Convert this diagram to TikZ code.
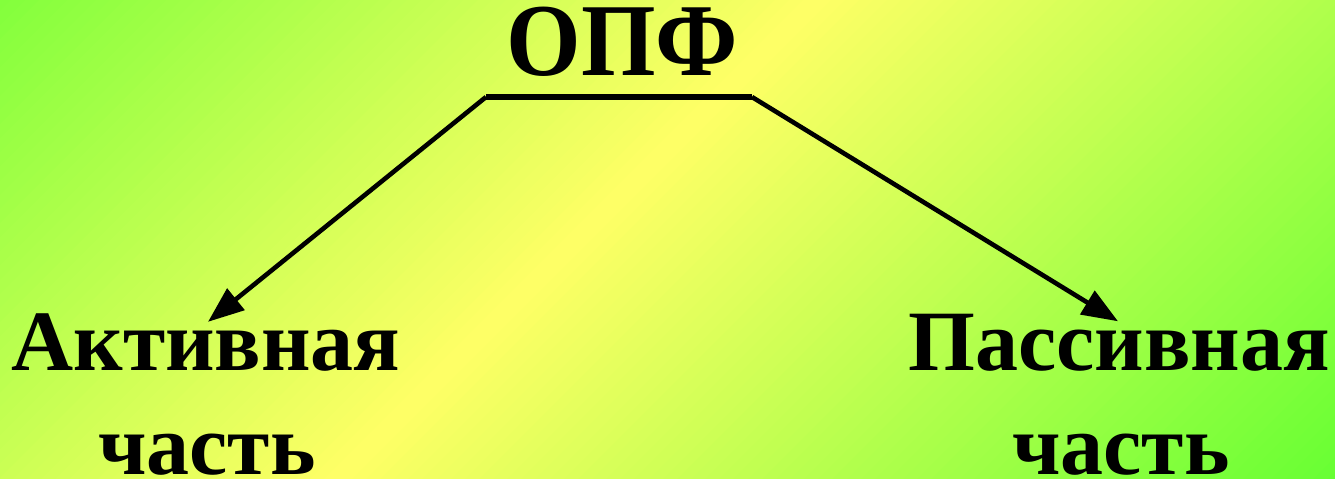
\documentclass[tikz,border=0pt]{standalone}
\usepackage{fontspec}
\setmainfont{Liberation Serif}
\usetikzlibrary{arrows.meta}
\definecolor{bgyellow}{RGB}{255,255,102}
\definecolor{bggreen}{RGB}{100,255,50}
\begin{document}
\begin{tikzpicture}[x=0.5pt,y=0.5pt,
  lbl/.style={inner sep=0pt, anchor=base, text=black, font=\bfseries\fontsize{43}{50}\selectfont},
  ttl/.style={inner sep=0pt, anchor=base, text=black, font=\bfseries\fontsize{47}{55}\selectfont},
  connector/.style={line width=2.3pt, -{Triangle[length=18pt,width=13.5pt]}},
  bar/.style={line width=2.8pt}]
\useasboundingbox (0,0) rectangle (1335,478);
\begin{scope}
  \clip (0,0) rectangle (1335,478);
  \begin{scope}[shift={(578,239)}, rotate=-45]
    \foreach \i in {0,...,143}{
      \pgfmathsetmacro\t{abs(-715+\i*10)/720*100}
      \fill[bggreen!\t!bgyellow] (-720+\i*10,-1100) rectangle (-720+\i*10+11,1100);
    }
  \end{scope}
\end{scope}
\node[ttl] (opf) at (622.5,402) {\scalebox{1.02}[1.1]{ОПФ}};
\coordinate (barL) at (486,381);
\coordinate (barR) at (752,381);
\node[lbl] (akt) at (206,108) {Активная};
\node[lbl] (aktb) at (207,4) {часть};
\node[lbl] (pas) at (1119,108) {Пассивная};
\node[lbl] (pasb) at (1121,4) {часть};
\draw[bar] (barL) -- (barR);
\draw[connector] (barL) -- ([xshift=1pt,yshift=-4.5pt]akt.north);
\draw[connector] (barR) -- ([xshift=-0.5pt,yshift=-4pt]pas.north);
\end{tikzpicture}
\end{document}
